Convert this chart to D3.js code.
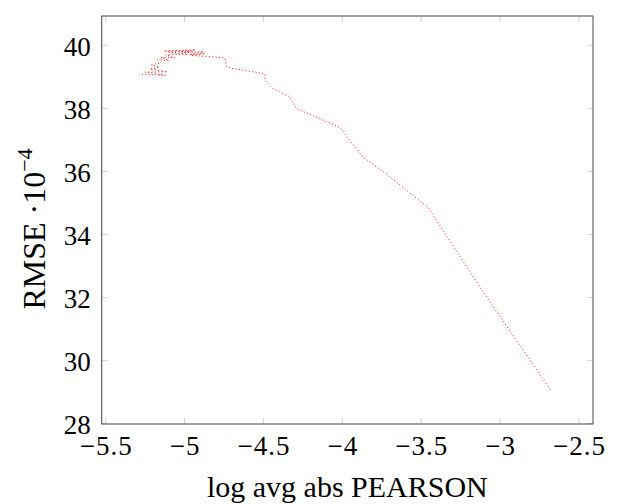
<!DOCTYPE html>
<html>
<head>
<meta charset="utf-8">
<script src="https://cdn.jsdelivr.net/npm/d3@7"></script>
<style>
  body { margin: 0; background: #fff; }
</style>
</head>
<body>
<div id="chart"></div>
<script>
// curve values (x = log avg abs PEARSON, y = RMSE * 1e4)
const logPearson = [
  -5.27, -5.12, -5.25, -5.11, -5.22, -5.16, -5.21, -5.15, -5.17, -5.10,
  -5.15, -5.06, -5.12, -4.98, -5.10, -4.95, -5.13, -4.93, -5.02, -4.88,
  -4.97, -4.87, -4.96, -4.81, -4.745, -4.735, -4.69, -4.49, -4.49, -4.44,
  -4.385, -4.33, -4.29, -4.14, -4.015, -3.867, -3.72, -3.55, -3.456, -3.128,
  -2.678
];
const rmse = [
  39.08, 39.05, 39.15, 39.16, 39.25, 39.30, 39.38, 39.45, 39.55, 39.52,
  39.62, 39.60, 39.70, 39.72, 39.78, 39.82, 39.82, 39.86, 39.76, 39.80,
  39.70, 39.74, 39.68, 39.63, 39.60, 39.33, 39.26, 39.10, 38.89, 38.63,
  38.49, 38.36, 37.99, 37.67, 37.39, 36.45, 35.92, 35.23, 34.86, 32.33,
  29.05
];
const xTicks = [-5.5, -5, -4.5, -4, -3.5, -3, -2.5];
const yTicks = [28, 30, 32, 34, 36, 38, 40];

const width = 622, height = 504;
const margin = { top: 16, right: 29, bottom: 80, left: 101.7 };
const serif = "'Liberation Serif', 'DejaVu Serif', serif";

const svg = d3.select("#chart").append("svg")
  .attr("width", width)
  .attr("height", height);

const x = d3.scaleLinear()
  .domain([-5.525, -2.411])
  .range([margin.left, width - margin.right]);

const y = d3.scaleLinear()
  .domain([27.99, 40.93])
  .range([height - margin.bottom, margin.top]);

const fmt = d => (d < 0 ? "\u2212" : "") + Math.abs(d);

// light tick marks on all four sides
const tickLen = 6;
const tickColor = "#c8c8c8";
const g = svg.append("g");
xTicks.forEach(t => {
  g.append("line").attr("x1", x(t)).attr("x2", x(t))
    .attr("y1", y.range()[0]).attr("y2", y.range()[0] - tickLen)
    .attr("stroke", tickColor).attr("stroke-width", 0.8);
  g.append("line").attr("x1", x(t)).attr("x2", x(t))
    .attr("y1", y.range()[1]).attr("y2", y.range()[1] + tickLen)
    .attr("stroke", tickColor).attr("stroke-width", 0.8);
});
yTicks.forEach(t => {
  g.append("line").attr("x1", x.range()[0]).attr("x2", x.range()[0] + tickLen)
    .attr("y1", y(t)).attr("y2", y(t))
    .attr("stroke", tickColor).attr("stroke-width", 0.8);
  g.append("line").attr("x1", x.range()[1]).attr("x2", x.range()[1] - tickLen)
    .attr("y1", y(t)).attr("y2", y(t))
    .attr("stroke", tickColor).attr("stroke-width", 0.8);
});

// axes (labels only, ticks drawn above)
const xAxis = svg.append("g")
  .attr("transform", `translate(0, ${y.range()[0]})`)
  .call(d3.axisBottom(x).tickValues(xTicks).tickFormat(fmt).tickSize(0).tickPadding(12));
xAxis.select(".domain").remove();
xAxis.selectAll("text")
  .style("font-family", serif)
  .style("font-size", "27px")
  .style("letter-spacing", "1px")
  .attr("fill", "#000");

const yAxis = svg.append("g")
  .attr("transform", `translate(${x.range()[0]}, 0)`)
  .call(d3.axisLeft(y).tickValues(yTicks).tickFormat(fmt).tickSize(0).tickPadding(11));
yAxis.select(".domain").remove();
yAxis.selectAll("text")
  .style("font-family", serif)
  .style("font-size", "27px")
  .attr("dy", "0.36em")
  .attr("fill", "#000");

// frame
svg.append("rect")
  .attr("x", x.range()[0])
  .attr("y", y.range()[1])
  .attr("width", x.range()[1] - x.range()[0])
  .attr("height", y.range()[0] - y.range()[1])
  .attr("fill", "none")
  .attr("stroke", "#444")
  .attr("stroke-width", 1);

// dotted red curve
const pts = logPearson.map((v, i) => [v, rmse[i]]);
const line = d3.line()
  .x(d => x(d[0]))
  .y(d => y(d[1]));
svg.append("path")
  .datum(pts)
  .attr("fill", "none")
  .attr("stroke", "red")
  .attr("stroke-width", 1)
  .attr("stroke-dasharray", "1 2.4")
  .attr("d", line);

// axis titles
svg.append("text")
  .attr("x", (x.range()[0] + x.range()[1]) / 2)
  .attr("y", 497)
  .attr("text-anchor", "middle")
  .style("font-family", serif)
  .style("font-size", "30px")
  .text("log avg abs PEARSON");

const yl = svg.append("text")
  .attr("transform", "translate(45, 229) rotate(-90)")
  .attr("text-anchor", "middle")
  .style("font-family", serif)
  .style("font-size", "32px");
yl.append("tspan").text("RMSE \u00b710");
yl.append("tspan").attr("dy", -13).style("font-size", "22px").text("\u22124");
</script>
</body>
</html>
